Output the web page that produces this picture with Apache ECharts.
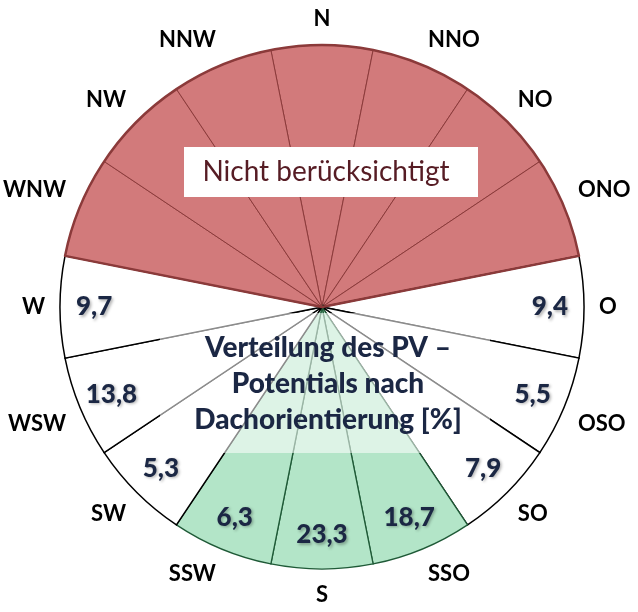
<!DOCTYPE html>
<html>
<head>
<meta charset="utf-8">
<script src="https://cdn.jsdelivr.net/npm/echarts@6/dist/echarts.min.js"></script>
<style>
  html, body { margin: 0; padding: 0; background: #fff; }
  #chart { width: 638px; height: 612px; }
</style>
</head>
<body>
<div id="chart"></div>
<script>
// compass directions, clockwise from north
const directions = ["N", "NNO", "NO", "ONO", "O", "OSO", "SO", "SSO", "S", "SSW", "SW", "WSW", "W", "WNW", "NW", "NNW"];
// share of PV potential in % (null = nicht berücksichtigt)
const shares = [null, null, null, null, 9.4, 5.5, 7.9, 18.7, 23.3, 6.3, 5.3, 13.8, 9.7, null, null, null];
// best orientations (green)
const favoured = ["SSO", "S", "SSW"];

const redFill = "#d27a7b",
  redLine = "#8b3a3a",
  greenFill = "#b3e5c8",
  greenLine = "#1f5a37",
  textBlue = "#1b2744";

let myChart = echarts.init(document.getElementById("chart"));
let n = directions.length,
  sector = 360 / n,
  cx = 322,
  cy = 307,
  R = 262;

// sectors: every bar reaches the full radius
let sectorData = directions.map(function (d, i) {
  let style;
  if (shares[i] === null) {
    style = { color: redFill, borderColor: redLine, borderWidth: 1 };
  } else if (favoured.indexOf(d) >= 0) {
    style = { color: greenFill, borderColor: greenLine, borderWidth: 1.3 };
  } else {
    style = { color: "#ffffff", borderColor: "#000000", borderWidth: 1.5 };
  }
  return { value: 1, itemStyle: style };
});

// value labels near the outer edge
let valueData = [];
for (let i = 0; i < n; i++) {
  if (shares[i] !== null) valueData.push({ value: [0.87, i], share: shares[i] });
}

// outline of the not considered block
let firstRed = directions.findIndex(function (d, i) {
  return shares[i] === null && shares[(i - 1 + n) % n] !== null;
});
let redCount = shares.filter(function (v) { return v === null; }).length;
let outlineStart = (90 + sector / 2 - firstRed * sector + 720) % 360;

let option = {
  animation: false,
  polar: { center: [cx, cy], radius: R },
  angleAxis: {
    type: "category",
    data: directions,
    startAngle: 90 + sector / 2,
    clockwise: true,
    boundaryGap: true,
    axisLine: { show: false },
    axisTick: { show: false },
    splitLine: { show: false },
    axisLabel: {
      margin: 15,
      fontFamily: "Lato",
      fontWeight: "bold",
      fontSize: 22,
      color: "#000"
    },
    z: 5
  },
  radiusAxis: {
    type: "value",
    min: 0,
    max: 1,
    show: false
  },
  series: [
    {
      type: "bar",
      coordinateSystem: "polar",
      data: sectorData,
      barCategoryGap: "0%",
      silent: true
    },
    {
      type: "pie",
      center: [cx, cy],
      radius: [0, R],
      startAngle: outlineStart,
      clockwise: true,
      silent: true,
      label: { show: false },
      labelLine: { show: false },
      data: [
        { value: redCount, itemStyle: { color: "rgba(0,0,0,0)", borderColor: redLine, borderWidth: 2.5 } },
        { value: n - redCount, itemStyle: { color: "rgba(0,0,0,0)", borderWidth: 0 } }
      ],
      z: 3
    },
    {
      type: "scatter",
      coordinateSystem: "polar",
      symbolSize: 1,
      itemStyle: { color: "rgba(0,0,0,0)", opacity: 1 },
      silent: true,
      data: valueData,
      label: {
        show: true,
        position: "inside",
        fontFamily: "Lato",
        fontWeight: 900,
        fontSize: 26,
        color: textBlue,
        opacity: 1,
        textBorderWidth: 0,
        textShadowColor: "rgba(0,0,0,0.3)",
        textShadowBlur: 3,
        textShadowOffsetX: 1.5,
        textShadowOffsetY: 1.5,
        formatter: function (p) {
          return p.data.share.toFixed(1).replace(".", ",");
        }
      },
      z: 6
    }
  ],
  graphic: [
    {
      type: "rect",
      z: 10,
      shape: { x: 184, y: 147, width: 294, height: 50 },
      style: { fill: "#ffffff" }
    },
    {
      type: "text",
      z: 11,
      x: 326,
      y: 172,
      style: {
        text: "Nicht berücksichtigt",
        fontFamily: "Lato",
        fontSize: 28,
        fill: "#561c24",
        align: "center",
        verticalAlign: "middle",
        shadowColor: "rgba(0,0,0,0.35)",
        shadowBlur: 3,
        shadowOffsetX: 1.5,
        shadowOffsetY: 1.5
      }
    },
    {
      type: "rect",
      z: 10,
      shape: { x: 160, y: 313, width: 330, height: 140 },
      style: { fill: "rgba(255,255,255,0.55)" }
    },
    {
      type: "text",
      z: 11,
      x: 328,
      y: 384,
      style: {
        text: "Verteilung des PV –\nPotentials nach\nDachorientierung [%]",
        fontFamily: "Lato",
        fontWeight: 900,
        fontSize: 28,
        lineHeight: 36,
        fill: "#1b2744",
        align: "center",
        verticalAlign: "middle",
        shadowColor: "rgba(0,0,0,0.35)",
        shadowBlur: 3,
        shadowOffsetX: 1.5,
        shadowOffsetY: 1.5
      }
    }
  ]
};

if (option && typeof option === "object") myChart.setOption(option);
window.addEventListener("resize", function () {
  myChart.resize();
});
</script>
</body>
</html>
